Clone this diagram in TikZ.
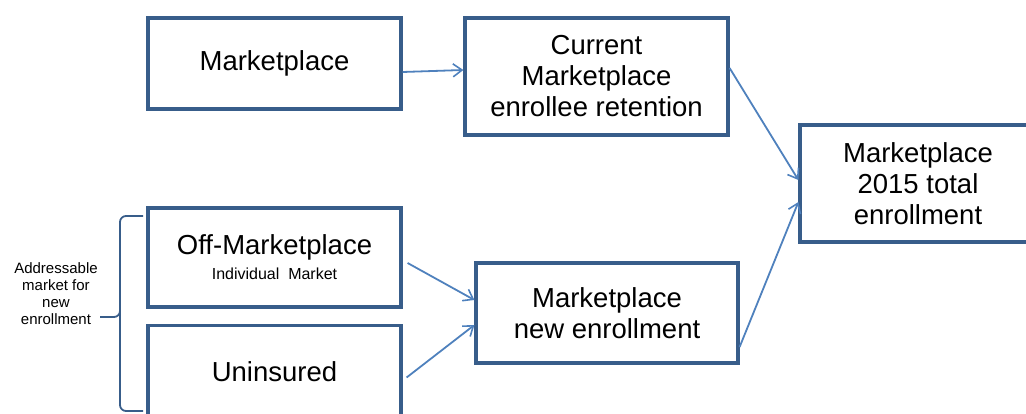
\documentclass[tikz,border=0pt]{standalone}
\usepackage{fontspec}
\setmainfont{Liberation Sans}
\usetikzlibrary{arrows.meta}
\definecolor{boxblue}{HTML}{385D8A}
\definecolor{arrowblue}{HTML}{4F81BD}
\begin{document}
\begin{tikzpicture}[x=1pt,y=-1pt,
  box/.style={draw=boxblue, line width=3.2pt, rectangle, align=center, inner sep=0pt,
    font=\fontsize{27.5}{31}\selectfont},
  link/.style={draw=arrowblue, line width=1.8pt, -{Straight Barb[length=9pt,width=13pt,line width=1.6pt]}},
  bracket/.style={draw=boxblue, line width=1.8pt, rounded corners=6pt}]
\useasboundingbox (0,0) rectangle (1026,414);
\clip (0,0) rectangle (1026,414);

\node[box, minimum width=253pt, minimum height=91pt] (mkt) at (274.5,63.5) {Marketplace};
\node[box, minimum width=263pt, minimum height=117pt] (cur) at (596.5,76.5)
  {Current\\Marketplace\\enrollee retention};
\node[box, minimum width=236pt, minimum height=117pt] (tot) at (918,183.5)
  {Marketplace\\2015 total\\enrollment};
\node[box, minimum width=253pt, minimum height=99pt] (off) at (274.5,257.5)
  {Off-Marketplace\\[-6pt]{\fontsize{16}{17}\selectfont Individual\ \ Market}};
\node[box, minimum width=253pt, minimum height=92pt] (uni) at (274.5,371.5) {Uninsured};
\node[box, minimum width=262pt, minimum height=100pt] (new) at (607,313)
  {Marketplace\\new enrollment};

% label for the bracket on the left
\node[align=center, font=\fontsize{15}{17}\selectfont] (addr) at (56,293.5)
  {Addressable\\market for\\new\\enrollment};
\draw[bracket] (143,216) -- (120,216) -- (120,317) -- (100,317);
\draw[bracket] (120,312) -- (120,411) -- (143,411);

% connectors
\draw[link] ([yshift=-8.5pt]mkt.east) -- ([yshift=6.5pt]cur.west);
\draw[link] ([yshift=8.5pt]cur.east) -- ([yshift=3.5pt]tot.west);
\draw[link] ([yshift=-34pt]new.east) -- ([yshift=-18.5pt]tot.west);
\draw[link] ([xshift=5pt,yshift=-5.5pt]off.east) -- ([yshift=13pt]new.west);
\draw[link] ([xshift=4pt,yshift=-6pt]uni.east) -- ([yshift=-12pt]new.west);
\end{tikzpicture}
\end{document}
